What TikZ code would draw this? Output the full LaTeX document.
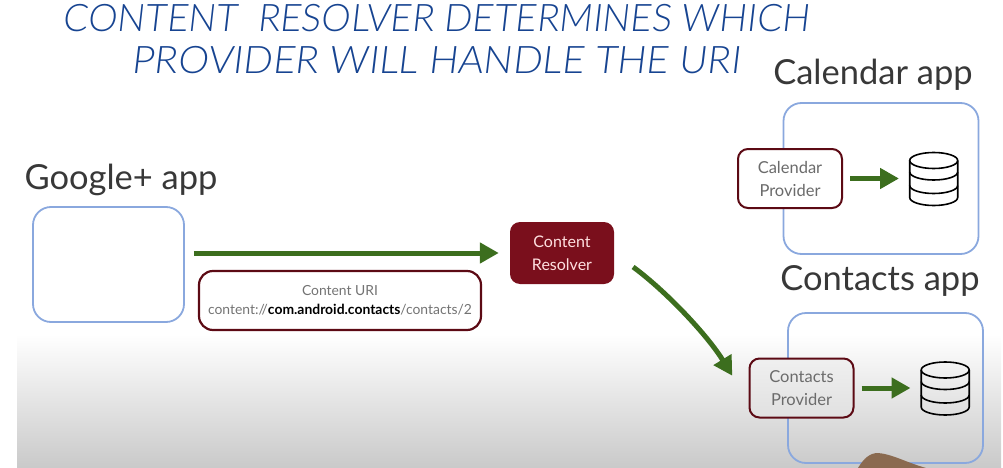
\documentclass[tikz,border=0pt]{standalone}
\usepackage{fontspec}
\setmainfont{Lato}
\newfontfamily\titlefont[FakeStretch=1.03,FakeSlant=0.12]{Lato Light}
\usetikzlibrary{arrows.meta,positioning}
\definecolor{bluebox}{HTML}{8AA8DE}
\definecolor{wine}{HTML}{5C0A14}
\definecolor{winefill}{HTML}{7A0F1C}
\definecolor{arrowgreen}{HTML}{3C6E1E}
\definecolor{titleblue}{HTML}{174491}
\definecolor{fingertone}{HTML}{8A6A50}
\newcommand{\dbicon}[1]{\begin{scope}[shift={(#1.center)},line width=1.6pt]
\draw (0,-18) ellipse[x radius=24,y radius=8];
\draw (-24,-18)--(-24,19) arc[start angle=180,end angle=0,x radius=24,y radius=8]--(24,-18);
\draw (-24,-6.5) arc[start angle=180,end angle=0,x radius=24,y radius=8];
\draw (-24,7) arc[start angle=180,end angle=0,x radius=24,y radius=8];
\end{scope}}
\begin{document}
\begin{tikzpicture}[x=1pt,y=-1pt,appbox/.style={draw=bluebox,line width=1.8pt,rounded corners=18pt},
provbox/.style={draw=wine,line width=2pt,rounded corners=10pt,align=center,font=\fontsize{16.5}{23}\selectfont,text=black!58,minimum width=104pt,minimum height=59pt,inner sep=0pt},
applabel/.style={font=\fontsize{34.5}{38}\selectfont,text=black!78},
titletext/.style={font=\titlefont\fontsize{38}{38}\selectfont,text=titleblue},
dbnode/.style={minimum width=49pt,minimum height=54pt,inner sep=0pt},
arr/.style={-{Triangle[length=19pt,width=20pt]},line width=5pt,draw=arrowgreen}]
\useasboundingbox (0,0) rectangle (1003,468);
% backdrop
\shade[top color=white,bottom color=black!21] (17,334) rectangle (1001,468);
\node[titletext,xscale=.945] (t1) at (436,18) {CONTENT\ \ RESOLVER DETERMINES WHICH};
\node[titletext,xscale=.99] (t2) at (436,60) {PROVIDER WILL HANDLE THE URI};
% google side
\node[appbox,minimum width=151pt,minimum height=115pt] (gb) at (108.5,264.5) {};
\node[applabel] (gl) at (121,180) {Google+ app};
\node[draw=wine,line width=2.2pt,rounded corners=14pt,minimum width=282pt,minimum height=59pt,inner sep=0pt,align=center,text=black!55,font=\fontsize{13.9}{19}\selectfont] (uri) at (340,300.5) {Content URI\\content://{\color{black}\bfseries com.android.contacts}/contacts/2};
\node[fill=winefill,rounded corners=10pt,minimum width=104pt,minimum height=62pt,inner sep=0pt,align=center,text=red!12,font=\fontsize{16}{23}\selectfont] (cr) at (562,253) {Content\\Resolver};
% calendar side
\node[appbox,minimum width=195pt,minimum height=151pt] (ca) at (881,178.5) {};
\node[applabel] (cl) at (873,75) {Calendar app};
\node[provbox,fill=white] (cp) at (790,178.5) {Calendar\\Provider};
\node[dbnode,right=66pt of cp] (cdb) {};
\dbicon{cdb}
% contacts side
\node[appbox,minimum width=195pt,minimum height=150pt] (ka) at (885.5,388) {};
\node[applabel] (kl) at (880,281) {Contacts app};
\node[provbox,top color=black!6,bottom color=black!12] (kp) at (801.5,388) {Contacts\\Provider};
\node[dbnode,right=66pt of kp] (kdb) {};
\dbicon{kdb}
\fill[fingertone] (858,468) .. controls (864,458) and (870,453) .. (878,453) .. controls (892,454) and (905,462) .. (926,468)--cycle;
% arrows
\draw[arr,shorten <=9pt,shorten >=11pt] (gb.east|-cr.west)--(cr.west);
\draw[arr,shorten <=23.5pt,shorten >=31pt] (cr.east) .. controls (667,292) and (708,336) .. (kp.195);
\draw[arr,shorten <=7pt,shorten >=10pt] (cp)--(cdb);
\draw[arr,shorten <=7pt,shorten >=10pt] (kp)--(kdb);
\end{tikzpicture}
\end{document}
